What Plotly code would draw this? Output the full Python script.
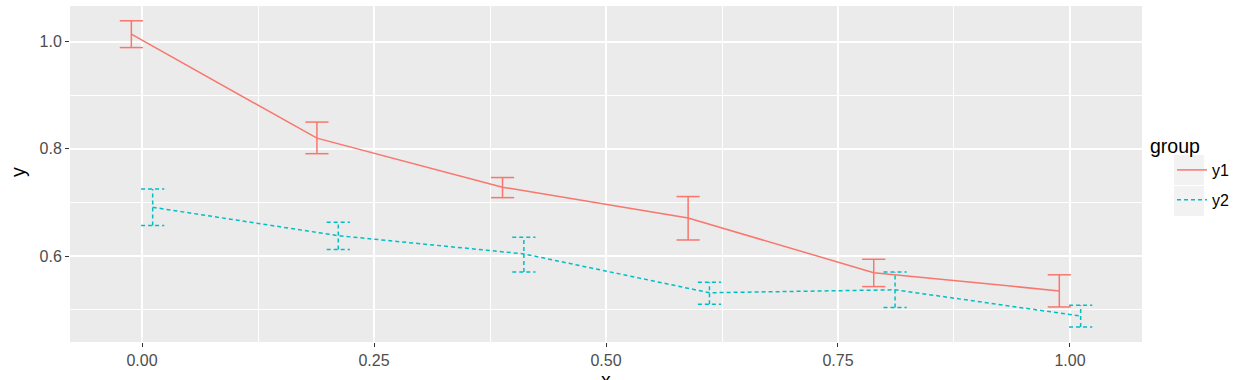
import plotly.graph_objects as go

# ---- data ----
x_vals = [0.0, 0.2, 0.4, 0.6, 0.8, 1.0]
y1 = [1.014, 0.820, 0.7285, 0.671, 0.569, 0.535]
y1_lo = [0.989, 0.791, 0.709, 0.630, 0.543, 0.505]
y1_hi = [1.039, 0.850, 0.7465, 0.711, 0.594, 0.565]
y2 = [0.691, 0.638, 0.604, 0.5315, 0.537, 0.488]
y2_lo = [0.657, 0.612, 0.570, 0.510, 0.504, 0.4675]
y2_hi = [0.725, 0.663, 0.635, 0.551, 0.570, 0.508]
groups = ["y1", "y2"]
x_ticks = [0.0, 0.25, 0.5, 0.75, 1.0]
x_ticktext = ["0.00", "0.25", "0.50", "0.75", "1.00"]
y_ticks = [0.6, 0.8, 1.0]
y_ticktext = ["0.6", "0.8", "1.0"]

# ---- style ----
DODGE = 0.0115
CAP = 0.0125
colors = {"y1": "#F8766D", "y2": "#00BFC4"}
dashes = {"y1": "solid", "y2": "4px,3px"}
FONT = "Liberation Sans, Arial, sans-serif"


def errbar_path(xs, lo, hi):
    px, py = [], []
    for xi, l, h in zip(xs, lo, hi):
        px += [xi, xi, None, xi - CAP, xi + CAP, None, xi - CAP, xi + CAP, None]
        py += [l, h, None, l, l, None, h, h, None]
    return px, py


fig = go.Figure()
series = {"y1": (y1, y1_lo, y1_hi, -DODGE), "y2": (y2, y2_lo, y2_hi, DODGE)}
for g in groups:
    yy, lo, hi, off = series[g]
    xs = [v + off for v in x_vals]
    ex, ey = errbar_path(xs, lo, hi)
    fig.add_trace(go.Scatter(x=ex, y=ey, mode="lines", showlegend=False,
                             line=dict(color=colors[g], width=1.5, dash=dashes[g]),
                             hoverinfo="skip"))
    fig.add_trace(go.Scatter(x=xs, y=yy, mode="lines", name=g, legendgroup=g,
                             line=dict(color=colors[g], width=1.5, dash=dashes[g])))

W, H = 1242, 380
L, R, T, B = 70, 100, 6, 38
pw, ph = W - L - R, H - T - B


def px2x(p):
    return (p - L) / pw


def px2y(p):
    return (H - B - p) / ph


# legend key backgrounds
for (top, bot) in [(155, 185), (186, 216)]:
    fig.add_shape(type="rect", xref="paper", yref="paper",
                  x0=px2x(1174), x1=px2x(1204), y0=px2y(bot), y1=px2y(top),
                  fillcolor="#F2F2F2", line=dict(width=0), layer="below")

fig.add_annotation(text="group", xref="paper", yref="paper", x=px2x(1148), y=px2y(146),
                   showarrow=False, font=dict(family=FONT, size=19.5, color="black"),
                   xanchor="left", yanchor="middle")
fig.add_annotation(text="x", xref="paper", yref="paper", x=0.5, y=px2y(380),
                   showarrow=False, font=dict(family=FONT, size=19.5, color="black"),
                   xanchor="center", yanchor="middle")
fig.add_annotation(text="y", xref="paper", yref="paper", x=px2x(18), y=px2y(172),
                   showarrow=False, textangle=-90,
                   font=dict(family=FONT, size=19.5, color="black"),
                   xanchor="center", yanchor="middle")

fig.update_layout(
    width=W, height=H,
    margin=dict(l=L, r=R, t=T, b=B, pad=0),
    paper_bgcolor="white", plot_bgcolor="#EBEBEB",
    font=dict(family=FONT, size=16, color="#4D4D4D"),
    legend=dict(x=px2x(1172), xanchor="left", y=px2y(153), yanchor="top",
                bgcolor="rgba(0,0,0,0)", font=dict(size=16, color="black"),
                tracegroupgap=6, traceorder="grouped", itemwidth=30),
    xaxis=dict(range=[-0.0776, 1.0776], tickvals=x_ticks, ticktext=x_ticktext,
               showgrid=True, gridcolor="white", gridwidth=1.6, zeroline=False,
               ticks="outside", ticklen=4, tickcolor="#333333", tickwidth=1,
               minor=dict(tickvals=[0.125, 0.375, 0.625, 0.875], showgrid=True,
                          gridcolor="white", gridwidth=0.8, ticks=""),
               showline=False, automargin=False),
    yaxis=dict(range=[0.4396, 1.0666], tickvals=y_ticks, ticktext=y_ticktext,
               showgrid=True, gridcolor="white", gridwidth=1.6, zeroline=False,
               ticks="outside", ticklen=4, tickcolor="#333333", tickwidth=1,
               minor=dict(tickvals=[0.5, 0.7, 0.9], showgrid=True,
                          gridcolor="white", gridwidth=0.8, ticks=""),
               showline=False, automargin=False),
)

fig.write_html("out.html", config={"displayModeBar": False},
               post_script="document.body.style.margin='0';")
